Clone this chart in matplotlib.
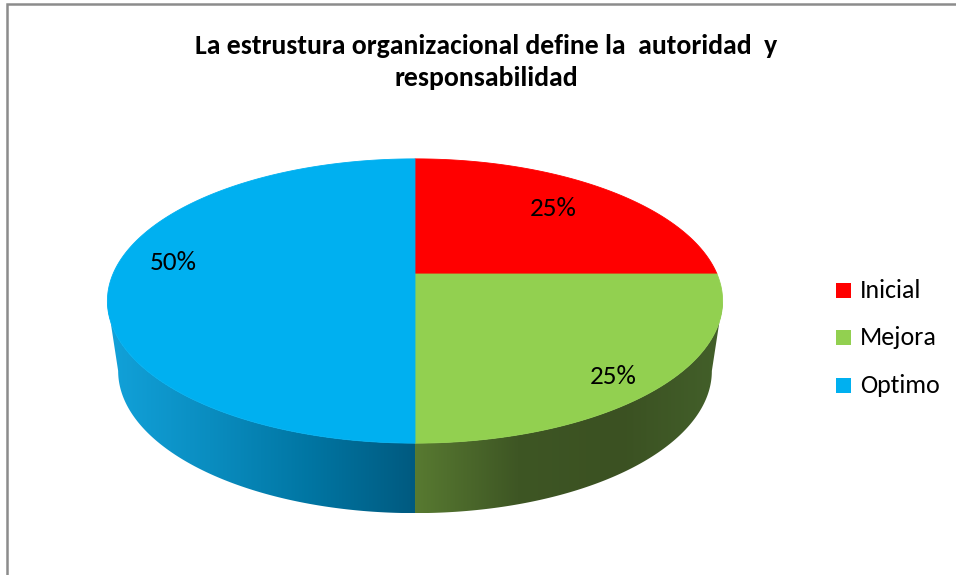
import numpy as np
import matplotlib
matplotlib.use("Agg")
import matplotlib.pyplot as plt
from matplotlib.patches import Polygon, Rectangle
from matplotlib.colors import LinearSegmentedColormap

# ---- data ----
categories = ["Inicial", "Mejora", "Optimo"]
values = [25, 25, 50]
colors = ["#FF0000", "#92D050", "#00B0F0"]
wall_colors = [["#B00000", "#800000"],
               ["#587A31", "#3E5624", "#3B5122", "#43602A"],
               ["#12A2DA", "#0A8DC0", "#0075A2", "#005A80"]]
title_lines = ["La estrustura organizacional define la  autoridad  y",
               "responsabilidad"]

FONT = ["Carlito", "Lato", "DejaVu Sans"]

W, H = 956, 575
fig = plt.figure(figsize=(W / 100, H / 100), dpi=100)
ax = fig.add_axes([0, 0, 1, 1])
ax.set_xlim(0, W)
ax.set_ylim(H, 0)
ax.axis("off")

# perspective pie geometry (pixel space)
cx, cy = 415, 274
A, B, k = 302, 137, 0.19
D = 70
SHRINK = 0.965   # bottom rim slightly narrower (perspective)


def proj(theta, dy=0.0, sx=1.0):
    u = np.cos(theta)
    v = np.sin(theta)
    w = 1 + k * v
    return cx + sx * A * u / w, cy - B * v / w + dy


total = float(sum(values))
start = np.pi / 2
bounds = []
ang = start
for val in values:
    end = ang - 2 * np.pi * val / total
    bounds.append((ang, end))
    ang = end

# visible front range of the rim
d = np.arcsin(k)
vis_lo, vis_hi = -np.pi + d, -d

# ---- walls ----
for i, (a0, a1) in enumerate(bounds):
    hi, lo = max(a0, a1), min(a0, a1)
    for shift in (0, 2 * np.pi, -2 * np.pi):
        l2, h2 = lo + shift, hi + shift
        s, e = max(l2, vis_lo), min(h2, vis_hi)
        if e <= s:
            continue
        t = np.linspace(s, e, 200)
        xt, yt = proj(t)
        xb, yb = proj(t[::-1], D, SHRINK)
        pts = np.column_stack([np.r_[xt, xb], np.r_[yt, yb]])
        poly = Polygon(pts, closed=True, facecolor="none", edgecolor="none")
        ax.add_patch(poly)
        x0, x1 = pts[:, 0].min(), pts[:, 0].max()
        y0, y1 = pts[:, 1].min(), pts[:, 1].max()
        cmap = LinearSegmentedColormap.from_list("w%d" % i, wall_colors[i])
        grad = np.linspace(0, 1, 256)[None, :]
        im = ax.imshow(grad, cmap=cmap, extent=[x0, x1, y1, y0],
                       aspect="auto", interpolation="bilinear", zorder=1)
        im.set_clip_path(poly)

# ---- top faces ----
for i, (a0, a1) in enumerate(bounds):
    t = np.linspace(a0, a1, 300)
    xt, yt = proj(t)
    pts = np.column_stack([np.r_[cx, xt], np.r_[cy, yt]])
    ax.add_patch(Polygon(pts, closed=True, facecolor=colors[i],
                         edgecolor=colors[i], linewidth=0.6, zorder=2))

# ---- percentage labels ----
label_pos = [(553, 209), (613, 376), (173, 262)]
for val, (lx, ly) in zip(values, label_pos):
    ax.text(lx, ly, "%d%%" % round(100 * val / total), ha="center",
            va="center", fontsize=19.5, family=FONT, color="black", zorder=5)

# ---- legend ----
leg_base = [298, 345, 393]
for i, cat in enumerate(categories):
    ax.add_patch(Rectangle((836, leg_base[i] - 15), 15, 15, facecolor=colors[i],
                           edgecolor="none", zorder=5))
    ax.text(860, leg_base[i], cat, ha="left", va="baseline", fontsize=18.7,
            family=FONT, color="black", zorder=5)

# ---- title ----
for line, base in zip(title_lines, [54, 86]):
    ax.text(486, base, line, ha="center", va="baseline", fontsize=20,
            fontweight="bold", family=FONT, zorder=5)

# ---- border ----
ax.plot([7, 7, W], [H, 4, 4], color="#8C8C8C", linewidth=1.8,
        solid_capstyle="butt", solid_joinstyle="miter", zorder=6)

fig.savefig("out.png", dpi=100)
